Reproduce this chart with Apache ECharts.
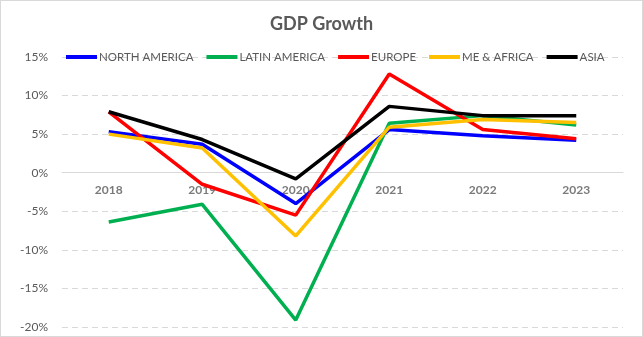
<!DOCTYPE html>
<html>
<head>
<meta charset="utf-8">
<script src="https://cdn.jsdelivr.net/npm/echarts@6/dist/echarts.min.js"></script>
<style>
  html, body { margin: 0; padding: 0; background: #fff; }
  #chart { width: 643px; height: 337px; box-sizing: border-box; border: 1px solid #d9d9d9; }
</style>
</head>
<body>
<div id="chart"></div>
<script>
// GDP growth by region, percent per year
const years = ['2018', '2019', '2020', '2021', '2022', '2023'];
const northAmerica = [5.3, 3.7, -4.0, 5.6, 4.8, 4.2];
const latinAmerica = [-6.4, -4.1, -19.1, 6.4, 7.4, 6.2];
const europe = [7.9, -1.5, -5.5, 12.8, 5.6, 4.4];
const meAfrica = [5.0, 3.2, -8.2, 5.9, 6.9, 6.5];
const asia = [7.9, 4.3, -0.8, 8.6, 7.4, 7.4];

const seriesNames = ['NORTH AMERICA', 'LATIN AMERICA', 'EUROPE', 'ME & AFRICA', 'ASIA'];
const seriesData = [northAmerica, latinAmerica, europe, meAfrica, asia];
const seriesColors = ['#0000ff', '#00b050', '#ff0000', '#ffc000', '#000000'];

const font = 'Lato, "Liberation Sans", sans-serif';
const chart = echarts.init(document.getElementById('chart'), null, { renderer: 'canvas' });

// Year labels sit just under the zero line, so they ride on an invisible
// helper series anchored at 0 on the value axis.
const yearLabelSeries = {
  name: 'year-labels',
  type: 'scatter',
  data: years.map(y => [y, 0]),
  symbolSize: 0,
  silent: true,
  z: 1,
  label: {
    show: true,
    position: 'bottom',
    distance: 11,
    formatter: p => p.name || p.value[0],
    fontFamily: font, fontSize: 12, fontWeight: 'bold', color: '#595959'
  }
};

chart.setOption({
  animation: false,
  backgroundColor: '#ffffff',
  title: {
    text: 'GDP Growth',
    left: 'center',
    top: 9,
    textStyle: { fontFamily: font, fontSize: 18, fontWeight: 'bold', color: '#595959' }
  },
  legend: {
    data: seriesNames,
    left: 60,
    top: 45,
    icon: 'rect',
    itemWidth: 31,
    itemHeight: 4,
    itemGap: 13,
    textStyle: { fontFamily: font, fontSize: 11.5, color: '#595959', padding: [0, 0, 0, -3] }
  },
  grid: { left: 61, right: 19, top: 56, bottom: 9, containLabel: false, outerBoundsMode: 'none' },
  xAxis: {
    type: 'category',
    data: years,
    boundaryGap: true,
    axisLine: { onZero: true, lineStyle: { color: '#d9d9d9', width: 1 } },
    axisTick: { show: false },
    axisLabel: { show: false },
    splitLine: { show: false }
  },
  yAxis: {
    type: 'value',
    min: -20,
    max: 15,
    interval: 5,
    axisLine: { show: false },
    axisTick: { show: false },
    axisLabel: {
      fontFamily: font, fontSize: 12, color: '#595959', margin: 14,
      formatter: v => v + '%'
    },
    splitLine: { lineStyle: { color: '#d9d9d9', type: [6, 4], width: 1 } }
  },
  series: seriesNames.map((name, i) => ({
    name: name,
    type: 'line',
    data: seriesData[i],
    symbol: 'none',
    z: 2,
    color: seriesColors[i],
    lineStyle: { width: 3.5, color: seriesColors[i] }
  })).concat([yearLabelSeries])
});
</script>
</body>
</html>
